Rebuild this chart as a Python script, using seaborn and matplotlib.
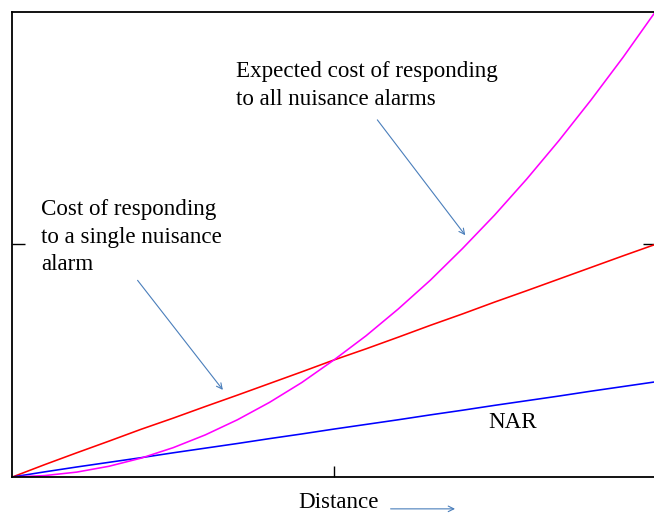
import numpy as np
import pandas as pd
import seaborn as sns
import matplotlib.pyplot as plt

# values (distance normalised 0..1, cost 0..2)
distance = [0.00, 0.05, 0.10, 0.15, 0.20, 0.25, 0.30, 0.35, 0.40, 0.45, 0.50,
            0.55, 0.60, 0.65, 0.70, 0.75, 0.80, 0.85, 0.90, 0.95, 1.00]
single_cost = [0.000, 0.053, 0.104, 0.154, 0.205, 0.253, 0.303, 0.352, 0.402, 0.452, 0.503,
               0.551, 0.601, 0.652, 0.701, 0.752, 0.801, 0.851, 0.901, 0.951, 1.000]
nar = [0.000, 0.022, 0.043, 0.063, 0.083, 0.104, 0.124, 0.144, 0.165, 0.185, 0.206,
       0.226, 0.246, 0.267, 0.287, 0.308, 0.328, 0.348, 0.369, 0.389, 0.409]
all_cost = [0.000, 0.006, 0.021, 0.046, 0.081, 0.126, 0.181, 0.246, 0.321, 0.406, 0.503,
            0.607, 0.722, 0.846, 0.982, 1.126, 1.281, 1.446, 1.621, 1.805, 2.000]

series = ['single', 'nar', 'all']
colours = {'single': '#ff0000', 'nar': '#0000ff', 'all': '#ff00ff'}

df = pd.DataFrame({
    'distance': distance * 3,
    'cost': single_cost + nar + all_cost,
    'series': ['single'] * len(distance) + ['nar'] * len(distance) + ['all'] * len(distance),
})

sns.set_style('white')
plt.rcParams['font.family'] = ['Liberation Serif', 'DejaVu Serif']
plt.rcParams['text.color'] = 'black'

fig = plt.figure(figsize=(6.54, 5.14), dpi=100)
ax = fig.add_axes([0.019, 0.072, 0.983, 0.905])

sns.lineplot(data=df, x='distance', y='cost', hue='series', hue_order=series,
             palette=colours, linewidth=1.15, legend=False, ax=ax)

ax.set_xlim(0, 1)
ax.set_ylim(0, 2)
ax.set_xticks([0.5])
ax.set_yticks([1])
ax.set_xticklabels([])
ax.set_yticklabels([])
ax.set_xlabel('')
ax.set_ylabel('')
ax.tick_params(axis='x', direction='in', length=8, width=1, bottom=True, top=False, colors='black')
ax.tick_params(axis='y', direction='in', length=9, width=1, left=True, right=True, colors='black')
for sp in ax.spines.values():
    sp.set_color('black')
    sp.set_linewidth(1.3)

fs = 16.6
arrow_c = '#4a7ebb'

# upper label, one line at a time (baselines)
for txt, y in [('Expected cost of responding', 1.720), ('to all nuisance alarms', 1.600)]:
    ax.text(0.347, y, txt, fontsize=fs, ha='left', va='baseline')
ax.annotate('', xy=(0.707, 1.03), xytext=(0.565, 1.545),
            arrowprops=dict(arrowstyle='->', color=arrow_c, lw=0.8))

for txt, y in [('Cost of responding', 1.125), ('to a single nuisance', 1.005), ('alarm', 0.890)]:
    ax.text(0.045, y, txt, fontsize=fs, ha='left', va='baseline')
ax.annotate('', xy=(0.330, 0.365), xytext=(0.192, 0.855),
            arrowprops=dict(arrowstyle='->', color=arrow_c, lw=0.8))

ax.text(0.740, 0.211, 'NAR', fontsize=fs, ha='left', va='baseline')

fig.text(0.518, 0.022, 'Distance', fontsize=fs, ha='center', va='center')
fig.add_artist(plt.Annotation('', xy=(0.700, 0.010), xytext=(0.593, 0.010),
                              xycoords='figure fraction', textcoords='figure fraction',
                              arrowprops=dict(arrowstyle='->', color=arrow_c, lw=0.8)))

plt.savefig('out.png', dpi=100)
